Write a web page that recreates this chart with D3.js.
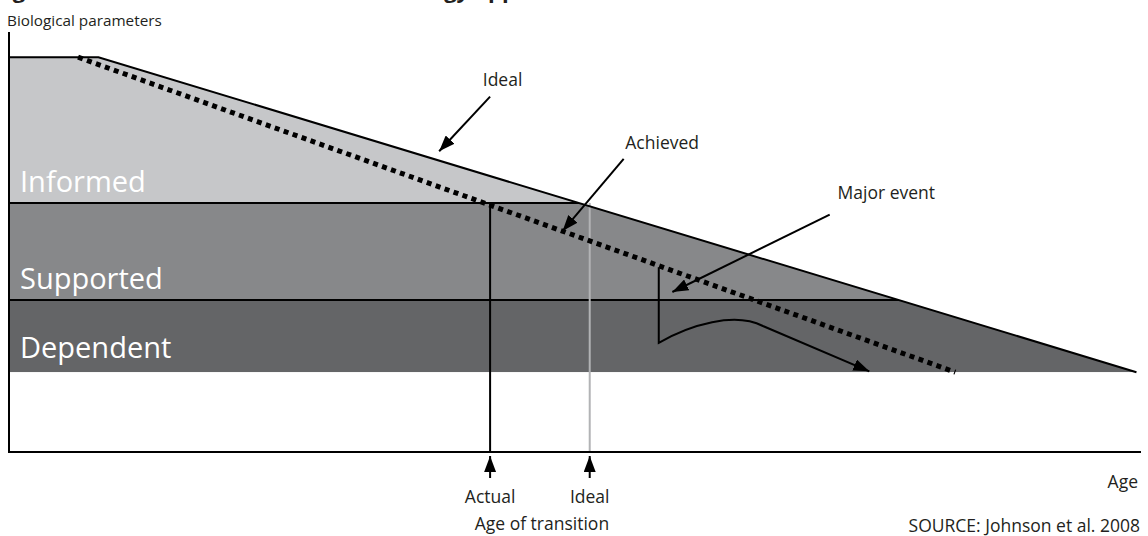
<!DOCTYPE html>
<html>
<head>
<meta charset="utf-8">
<script src="https://cdn.jsdelivr.net/npm/d3@7"></script>
<style>
  body { margin: 0; background: #fff; }
  text { font-family: "Open Sans", "Noto Sans", sans-serif; fill: #231f20; }
</style>
</head>
<body>
<div id="js_chart"></div>
<script>
// ---- data (age 0..100 across, level 0..100 up) ----
var bandNames  = ["Dependent", "Supported", "Informed"];
var bandLow    = [19, 36.2, 59.3];
var bandHigh   = [36.2, 59.3, 94];
var bandColors = ["#646567", "#87888a", "#c6c7c9"];

var idealAge   = [0, 7.9, 99.6];      // ideal path
var idealLevel = [94, 94, 19];
var achievedAge   = [6.1, 83.6];      // achieved (dotted)
var achievedLevel = [94, 19];

var transitionNames = ["Actual", "Ideal"];
var transitionAge   = [42.5, 51.3];

// major event: drop, bezier hump, then glide down
var eventAge   = [57.4, 57.4, 60.2, 64.1, 66.6, 76.0];
var eventLevel = [44, 26, 30.3, 33.4, 30.0, 19.2];

var noteNames = ["Ideal", "Achieved", "Major event"];
var noteAt    = [[43.6, 88.5], [57.7, 73.5], [77.5, 61.7]];   // label centre
var noteFrom  = [[42.5, 84.6], [54.3, 69.8], [72.5, 56.5]];
var noteTo    = [[38, 71.6], [48.9, 52.6], [58.6, 38.1]];

var W = 1148, H = 536;
var x = d3.scaleLinear().domain([0, 100]).range([9, 1141]);
var y = d3.scaleLinear().domain([0, 100]).range([452, 32]);

var svg = d3.select("#js_chart").append("svg")
    .attr("width", W).attr("height", H);

var defs = svg.append("defs");
defs.append("marker")
    .attr("id", "head")
    .attr("markerUnits", "userSpaceOnUse")
    .attr("markerWidth", 16).attr("markerHeight", 12)
    .attr("refX", 16).attr("refY", 6)
    .attr("orient", "auto")
  .append("path")
    .attr("d", "M0,0L16,6L0,12Z")
    .attr("fill", "#000");

// clip = area under ideal path
var under = idealAge.map(function (a, i) { return [x(a), y(idealLevel[i])]; });
under.push([x(idealAge[idealAge.length - 1]), y(bandLow[0])]);
under.push([x(0), y(bandLow[0])]);
defs.append("clipPath").attr("id", "under")
  .append("path").attr("d", "M" + under.join("L") + "Z");

// title, clipped at top edge as in the source
svg.append("text")
    .attr("x", -6).attr("y", -2)
    .style("font-size", "22px").style("font-weight", "bold")
    .text("Figure 1. Health decline and the technology approach");

// bands
var g = svg.append("g").attr("clip-path", "url(#under)");
bandNames.forEach(function (name, i) {
    g.append("rect")
        .attr("x", x(0)).attr("y", y(bandHigh[i]))
        .attr("width", x(100) - x(0))
        .attr("height", y(bandLow[i]) - y(bandHigh[i]))
        .attr("fill", bandColors[i]);
});
// band dividers
[bandLow[1], bandLow[2]].forEach(function (lv) {
    g.append("line")
        .attr("x1", x(0)).attr("x2", x(100))
        .attr("y1", y(lv)).attr("y2", y(lv))
        .attr("stroke", "#000").attr("stroke-width", 2);
});

// band labels
var labelY = [348, 279, 182];
bandNames.forEach(function (name, i) {
    svg.append("text")
        .attr("x", 20).attr("y", labelY[i])
        .attr("dy", "0.35em")
        .style("font-size", "29px").style("fill", "#fff")
        .text(name);
});

var line = d3.line();

// transition verticals
svg.append("line")
    .attr("x1", x(transitionAge[0])).attr("x2", x(transitionAge[0]))
    .attr("y1", y(bandLow[2])).attr("y2", y(0))
    .attr("stroke", "#000").attr("stroke-width", 2);
svg.append("line")
    .attr("x1", x(transitionAge[1])).attr("x2", x(transitionAge[1]))
    .attr("y1", y(bandLow[2])).attr("y2", y(0))
    .attr("stroke", "#b2b3b5").attr("stroke-width", 2);

// ideal outline
svg.append("path")
    .attr("d", line(idealAge.map(function (a, i) { return [x(a), y(idealLevel[i])]; })))
    .attr("fill", "none").attr("stroke", "#000").attr("stroke-width", 2);

// achieved dotted
svg.append("path")
    .attr("d", line(achievedAge.map(function (a, i) { return [x(a), y(achievedLevel[i])]; })))
    .attr("fill", "none").attr("stroke", "#000")
    .attr("stroke-width", 5).attr("stroke-dasharray", "5,4.5");

// major event path
var ev = eventAge.map(function (a, i) { return [x(a), y(eventLevel[i])]; });
svg.append("path")
    .attr("d", "M" + ev[0] + "L" + ev[1] +
               "C" + ev[2] + " " + ev[3] + " " + ev[4] + "L" + ev[5])
    .attr("fill", "none").attr("stroke", "#000").attr("stroke-width", 2)
    .attr("marker-end", "url(#head)");

// axes
svg.append("line")
    .attr("x1", x(0)).attr("x2", x(0)).attr("y1", y(100)).attr("y2", y(0))
    .attr("stroke", "#000").attr("stroke-width", 2);
svg.append("line")
    .attr("x1", x(0) - 1).attr("x2", x(100)).attr("y1", y(0)).attr("y2", y(0))
    .attr("stroke", "#000").attr("stroke-width", 2);

svg.append("text").attr("x", 7).attr("y", 21).attr("dy", "0.35em")
    .style("font-size", "15.3px").text("Biological parameters");
svg.append("text").attr("x", 1138).attr("y", 482).attr("dy", "0.35em")
    .attr("text-anchor", "end").style("font-size", "17.5px").text("Age");
svg.append("text").attr("x", 1140).attr("y", 526).attr("dy", "0.35em")
    .attr("text-anchor", "end").style("font-size", "17.5px").text("SOURCE: Johnson et al. 2008");

// transition arrows + labels
transitionNames.forEach(function (name, i) {
    svg.append("line")
        .attr("x1", x(transitionAge[i])).attr("x2", x(transitionAge[i]))
        .attr("y1", 478).attr("y2", 456)
        .attr("stroke", "#000").attr("stroke-width", 2)
        .attr("marker-end", "url(#head)");
    svg.append("text")
        .attr("x", x(transitionAge[i])).attr("y", 497).attr("dy", "0.35em")
        .attr("text-anchor", "middle").style("font-size", "17.5px")
        .text(name);
});
svg.append("text")
    .attr("x", (x(transitionAge[0]) + x(transitionAge[1])) / 2 + 2).attr("y", 524)
    .attr("dy", "0.35em").attr("text-anchor", "middle").style("font-size", "17.5px")
    .text("Age of transition");

// annotations
noteNames.forEach(function (name, i) {
    svg.append("text")
        .attr("x", x(noteAt[i][0])).attr("y", y(noteAt[i][1])).attr("dy", "0.35em")
        .attr("text-anchor", "middle").style("font-size", "17.5px")
        .text(name);
    svg.append("line")
        .attr("x1", x(noteFrom[i][0])).attr("y1", y(noteFrom[i][1]))
        .attr("x2", x(noteTo[i][0])).attr("y2", y(noteTo[i][1]))
        .attr("stroke", "#000").attr("stroke-width", 2)
        .attr("marker-end", "url(#head)");
});
</script>
</body>
</html>
